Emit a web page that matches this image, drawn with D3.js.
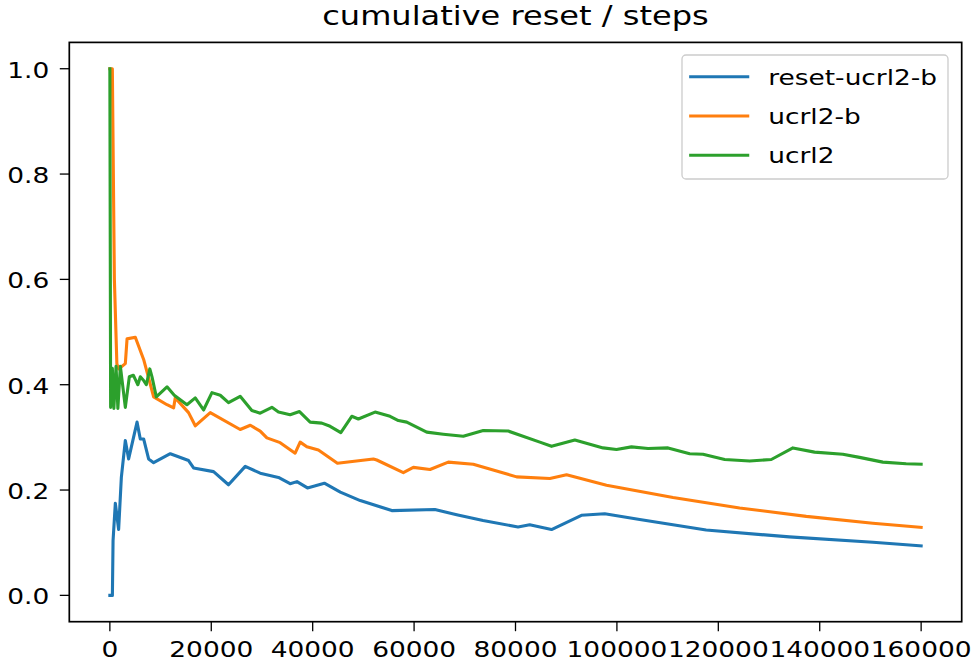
<!DOCTYPE html>
<html>
<head>
<meta charset="utf-8">
<script src="https://cdn.jsdelivr.net/npm/d3@7"></script>
<style>
  body { margin: 0; background: #fff; }
  svg { display: block; font-family: "DejaVu Sans", sans-serif; }
</style>
</head>
<body>
<div class="chart"></div>
<script>
// values
const resetX = [0, 500, 630, 1080, 1730, 2265, 3050, 3700, 5360, 6000, 6660, 7640, 8630, 11920, 15520, 16510, 20450, 23400, 26700, 29650, 33250, 35550, 36900, 38970, 42300, 45450, 49380, 55600, 64100, 68400, 73600, 80500, 82800, 87100, 93000, 97600, 104500, 117600, 134000, 150500, 160000];
const resetY = [0, 0, 0.104, 0.175, 0.125, 0.224, 0.294, 0.259, 0.329, 0.297, 0.297, 0.259, 0.252, 0.269, 0.256, 0.242, 0.235, 0.210, 0.245, 0.232, 0.224, 0.212, 0.216, 0.204, 0.213, 0.196, 0.180, 0.161, 0.163, 0.153, 0.142, 0.130, 0.134, 0.125, 0.152, 0.155, 0.144, 0.124, 0.111, 0.101, 0.094];

const ucrlbX = [0, 490, 890, 1380, 1730, 3050, 3390, 5020, 6660, 7640, 8630, 11270, 12570, 12900, 15520, 16840, 19800, 25700, 27700, 29650, 30970, 33590, 36540, 37530, 38850, 41130, 44880, 51970, 52640, 57880, 59850, 63140, 66740, 71670, 80220, 86780, 90070, 97950, 111070, 124200, 137350, 150470, 160000];
const ucrlbY = [1.0, 1.0, 0.60, 0.44, 0.43, 0.44, 0.487, 0.49, 0.448, 0.413, 0.377, 0.362, 0.356, 0.375, 0.347, 0.322, 0.347, 0.315, 0.323, 0.312, 0.299, 0.290, 0.270, 0.291, 0.282, 0.276, 0.251, 0.259, 0.257, 0.233, 0.243, 0.239, 0.253, 0.249, 0.225, 0.222, 0.229, 0.209, 0.186, 0.166, 0.150, 0.137, 0.129];

const ucrlX = [0, 150, 490, 790, 1220, 1580, 2070, 3050, 3840, 4630, 5020, 5520, 6010, 6660, 7190, 7880, 8310, 9160, 11270, 12700, 15200, 16840, 18480, 20130, 21770, 23400, 25700, 28000, 29650, 31950, 33250, 35550, 37400, 39500, 41800, 43440, 45550, 47710, 49010, 52300, 55260, 56900, 58550, 62490, 65760, 69700, 73640, 78560, 84800, 87110, 91700, 97280, 99920, 102870, 106140, 110080, 114360, 116980, 121250, 126180, 130450, 134710, 138980, 144560, 147850, 152440, 157050, 160000];
const ucrlY = [1.0, 0.357, 0.431, 0.355, 0.435, 0.355, 0.435, 0.357, 0.415, 0.418, 0.41, 0.40, 0.415, 0.408, 0.40, 0.43, 0.415, 0.377, 0.396, 0.38, 0.362, 0.375, 0.352, 0.385, 0.38, 0.366, 0.378, 0.351, 0.346, 0.357, 0.348, 0.343, 0.349, 0.329, 0.327, 0.321, 0.309, 0.340, 0.335, 0.348, 0.340, 0.332, 0.329, 0.310, 0.306, 0.302, 0.313, 0.312, 0.291, 0.283, 0.295, 0.280, 0.277, 0.282, 0.279, 0.280, 0.269, 0.268, 0.258, 0.255, 0.258, 0.280, 0.272, 0.268, 0.262, 0.253, 0.250, 0.249];

const seriesNames = ["reset-ucrl2-b", "ucrl2-b", "ucrl2"];
const seriesColors = ["#1f77b4", "#ff7f0e", "#2ca02c"];
const xTicks = [0, 20000, 40000, 60000, 80000, 100000, 120000, 140000, 160000];
const yTicks = [0.0, 0.2, 0.4, 0.6, 0.8, 1.0];
const title = "cumulative reset / steps";

const series = [
  {name: seriesNames[0], color: seriesColors[0], values: d3.zip(resetX, resetY)},
  {name: seriesNames[1], color: seriesColors[1], values: d3.zip(ucrlbX, ucrlbY)},
  {name: seriesNames[2], color: seriesColors[2], values: d3.zip(ucrlX, ucrlY)}
];

const W = 974, H = 671;
const margin = {top: 42.4, right: W - 961.7, bottom: H - 621.7, left: 69.3};
const width = W - margin.left - margin.right;
const height = H - margin.top - margin.bottom;

// the picture is stretched sideways a little, so text is too
const sx = 1.2;
const fontSize = 22;

const x = d3.scaleLinear()
  .domain([-8000, 168000])
  .range([0, width]);

const y = d3.scaleLinear()
  .domain([-0.05, 1.05])
  .range([height, 0]);

const svg = d3.select(".chart").append("svg")
  .attr("width", W)
  .attr("height", H);

const g = svg.append("g")
  .attr("transform", "translate(" + margin.left + "," + margin.top + ")");

const line = d3.line()
  .x((d) => x(d[0]))
  .y((d) => y(d[1]));

g.selectAll(".series")
  .data(series)
  .enter()
  .append("path")
  .attr("class", "series")
  .attr("fill", "none")
  .attr("stroke", (d) => d.color)
  .attr("stroke-width", 3.1)
  .attr("stroke-linejoin", "round")
  .attr("stroke-linecap", "square")
  .attr("d", (d) => line(d.values));

// axes, drawn by hand-ish so the text can be stretched
const xAxis = g.append("g")
  .attr("transform", "translate(0," + height + ")");

xAxis.selectAll("line")
  .data(xTicks)
  .enter()
  .append("line")
  .attr("x1", (d) => x(d))
  .attr("x2", (d) => x(d))
  .attr("y1", 0)
  .attr("y2", 9.5)
  .attr("stroke", "#000")
  .attr("stroke-width", 1.3);

xAxis.selectAll("text")
  .data(xTicks)
  .enter()
  .append("text")
  .attr("transform", (d) => "translate(" + x(d) + ",35.5) scale(" + sx + ",1)")
  .attr("text-anchor", "middle")
  .attr("font-size", fontSize)
  .attr("fill", "#000")
  .text((d) => d3.format("d")(d));

const yAxis = g.append("g");

yAxis.selectAll("line")
  .data(yTicks)
  .enter()
  .append("line")
  .attr("x1", -9.5)
  .attr("x2", 0)
  .attr("y1", (d) => y(d))
  .attr("y2", (d) => y(d))
  .attr("stroke", "#000")
  .attr("stroke-width", 1.3);

yAxis.selectAll("text")
  .data(yTicks)
  .enter()
  .append("text")
  .attr("transform", (d) => "translate(-20," + (y(d) + 9) + ") scale(" + sx + ",1)")
  .attr("text-anchor", "end")
  .attr("font-size", fontSize)
  .attr("fill", "#000")
  .text((d) => d3.format(".1f")(d));

// frame
g.append("rect")
  .attr("width", width)
  .attr("height", height)
  .attr("fill", "none")
  .attr("stroke", "#000")
  .attr("stroke-width", 1.7);

svg.append("text")
  .attr("transform", "translate(" + (margin.left + width / 2) + ",25) scale(" + sx + ",1)")
  .attr("text-anchor", "middle")
  .attr("font-size", 26.7)
  .attr("fill", "#000")
  .text(title);

// legend box in the upper right
const legendX = 682 - margin.left;
const legendY = 55 - margin.top;
const legendW = 266;
const legendH = 124;
const rowGap = 39.3;

g.append("rect")
  .attr("x", legendX)
  .attr("y", legendY)
  .attr("width", legendW)
  .attr("height", legendH)
  .attr("rx", 4)
  .attr("fill", "#fff")
  .attr("fill-opacity", 0.8)
  .attr("stroke", "#cccccc")
  .attr("stroke-width", 1.3);

const legend = g.selectAll(".legend")
  .data(series)
  .enter()
  .append("g")
  .attr("class", "legend")
  .attr("transform", (d, i) => "translate(" + legendX + "," + (legendY + 21.7 + i * rowGap) + ")");

legend.append("line")
  .attr("x1", 8.7)
  .attr("x2", 65.7)
  .attr("stroke", (d) => d.color)
  .attr("stroke-width", 3.1)
  .attr("stroke-linecap", "square");

legend.append("text")
  .attr("transform", "translate(86.3,8) scale(" + sx + ",1)")
  .attr("font-size", fontSize)
  .attr("fill", "#000")
  .text((d) => d.name);
</script>
</body>
</html>
